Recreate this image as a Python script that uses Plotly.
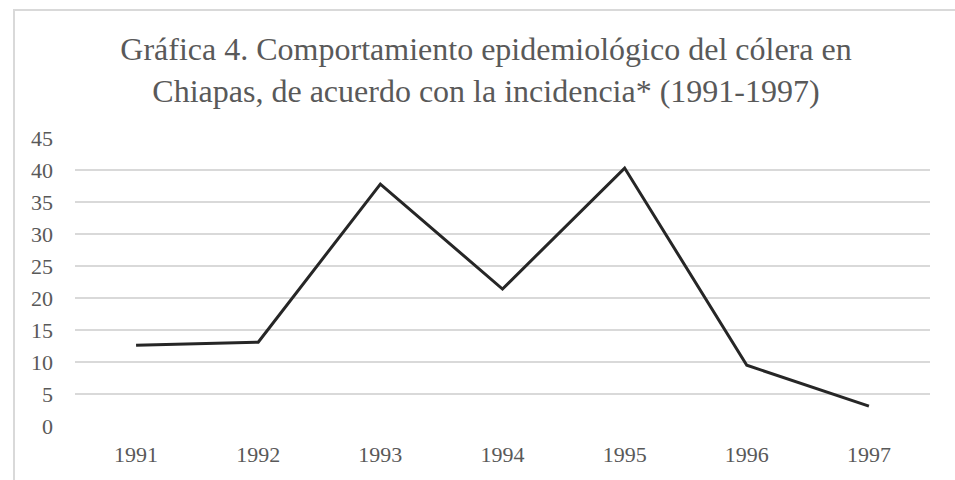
import plotly.graph_objects as go

years = ["1991", "1992", "1993", "1994", "1995", "1996", "1997"]
incidence = [12.6, 13.1, 37.8, 21.4, 40.3, 9.5, 3.1]
y_ticks = [0, 5, 10, 15, 20, 25, 30, 35, 40, 45]

W, H = 955, 480
ml, mr, mt, mb = 75, 25, 138, 54
pw = W - ml - mr
ph = H - mt - mb

def px_to_paper_x(px):
    return (px - ml) / pw

def px_to_paper_y(py):
    return (H - mb - py) / ph

font_family = "Liberation Serif"
text_color = "#595959"
grid_color = "#d9d9d9"

fig = go.Figure()
fig.add_trace(go.Scatter(
    x=years, y=incidence, mode="lines",
    line=dict(color="#262626", width=3),
    hoverinfo="x+y", showlegend=False,
))

fig.update_layout(
    width=W, height=H,
    margin=dict(l=ml, r=mr, t=mt, b=mb),
    paper_bgcolor="white", plot_bgcolor="white",
    title=dict(
        text="Gráfica 4. Comportamiento epidemiológico del cólera en<br>Chiapas, de acuerdo con la incidencia* (1991-1997)",
        x=486 / W, xanchor="center", y=1 - 60 / H, yanchor="middle",
        font=dict(family=font_family, size=32, color=text_color),
    ),
    xaxis=dict(
        type="category", range=[-0.5, 6.5], showgrid=False, zeroline=False,
        showline=False, ticks="", automargin=False,
        tickfont=dict(family=font_family, size=22, color=text_color),
        ticklabelstandoff=13,
    ),
    yaxis=dict(
        range=[0, 45], tickvals=y_ticks, showgrid=True, gridcolor=grid_color,
        gridwidth=1.5, zeroline=False, showline=False, ticks="", automargin=False,
        tickfont=dict(family=font_family, size=22, color=text_color),
        ticklabelstandoff=21,
    ),
    shapes=[
        dict(type="line", xref="paper", yref="paper",
             x0=px_to_paper_x(14), x1=px_to_paper_x(14),
             y0=px_to_paper_y(10), y1=px_to_paper_y(482),
             line=dict(color=grid_color, width=2)),
        dict(type="line", xref="paper", yref="paper",
             x0=px_to_paper_x(13), x1=px_to_paper_x(957),
             y0=px_to_paper_y(10), y1=px_to_paper_y(10),
             line=dict(color=grid_color, width=2)),
    ],
)

fig.write_html("out.html", config={"displayModeBar": False},
               post_script="document.body.style.margin='0';")
